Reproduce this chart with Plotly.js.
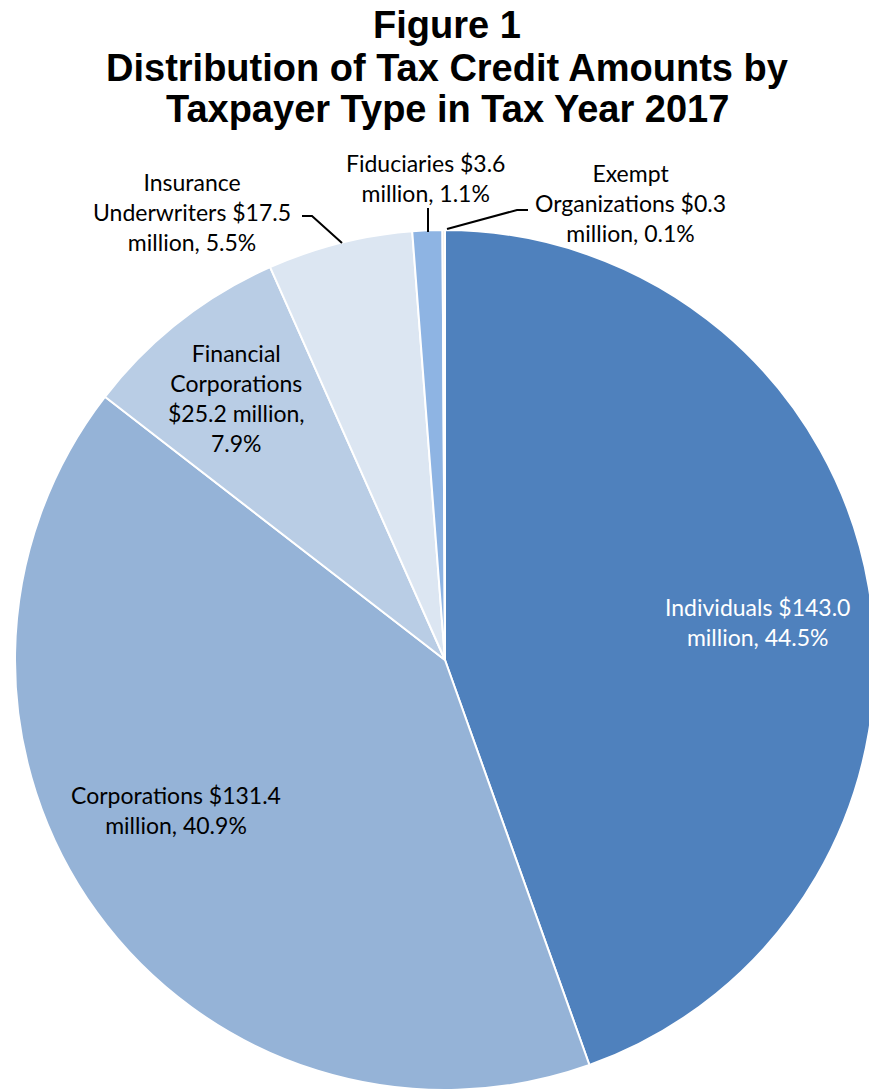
<!DOCTYPE html>
<html>
<head>
<meta charset="utf-8">
<script src="https://cdn.plot.ly/plotly-3.0.1.min.js"></script>
<style>
html, body { margin: 0; padding: 0; overflow: hidden; background: #fff; }
#chart { width: 890px; height: 1091px; }
</style>
</head>
<body>
<div id="chart"></div>
<script>
// Data
const categories = ["Individuals", "Corporations", "Financial Corporations", "Insurance Underwriters", "Fiduciaries", "Exempt Organizations"];
const amounts = [143.0, 131.4, 25.2, 17.5, 3.6, 0.3];
const percents = [44.5, 40.9, 7.9, 5.5, 1.1, 0.1];
const sliceColors = ["#4F81BD", "#95B3D7", "#B9CDE5", "#DCE6F2", "#8EB4E3", "#EEE5D8"];
const titleLines = ["Figure 1", "Distribution of Tax Credit Amounts by", "Taxpayer Type in Tax Year 2017"];

const W = 890, H = 1091;
const px = x => x / W;
const py = y => 1 - y / H;

function amt(i) { return "$" + amounts[i].toFixed(1); }
function pct(i) { return percents[i].toFixed(1) + "%"; }

// label text per slice (line breaks as in the reference)
const labelTexts = [
  categories[0] + " " + amt(0) + "<br>million, " + pct(0),
  categories[1] + " " + amt(1) + "<br>million, " + pct(1),
  "Financial<br>Corporations<br>" + amt(2) + " million,<br>" + pct(2),
  "Insurance<br>Underwriters " + amt(3) + "<br>million, " + pct(3),
  categories[4] + " " + amt(4) + "<br>million, " + pct(4),
  "Exempt<br>Organizations " + amt(5) + "<br>million, " + pct(5)
];
const labelPos = [[757, 622], [176, 810], [236, 398], [192, 212], [425, 178], [630, 203]];
const labelColor = ["#ffffff", "#000000", "#000000", "#000000", "#000000", "#000000"];

const trace = {
  type: "pie",
  labels: categories,
  values: amounts,
  sort: false,
  direction: "clockwise",
  rotation: 0,
  textinfo: "none",
  hoverinfo: "label+value+percent",
  marker: { colors: sliceColors, line: { color: "#ffffff", width: 2 } },
  domain: { x: [0, 1], y: [py(1090), py(230)] },
  showlegend: false
};

const annotations = labelTexts.map((t, i) => ({
  text: t,
  x: px(labelPos[i][0]), y: py(labelPos[i][1]),
  xref: "paper", yref: "paper",
  xanchor: "center", yanchor: "middle",
  showarrow: false,
  align: "center",
  font: { family: "Lato, 'Open Sans', sans-serif", size: 23, color: labelColor[i] }
}));

const titleY = [25, 68, 109];
titleLines.forEach((t, k) => {
  annotations.push({
    text: "<b>" + t + "</b>",
    x: px(447), y: py(titleY[k]), xref: "paper", yref: "paper",
    xanchor: "center", yanchor: "middle", showarrow: false, align: "center",
    font: { family: "'Liberation Sans', Arial, sans-serif", size: 38, color: "#000" }
  });
});

function path(pts) {
  return pts.map((p, k) => (k ? "L" : "M") + px(p[0]) + "," + py(p[1])).join(" ");
}
const leaderStyle = { color: "#000", width: 2 };
const shapes = [
  { type: "path", xref: "paper", yref: "paper", path: path([[302, 216], [312, 216], [342, 243]]), line: leaderStyle },
  { type: "path", xref: "paper", yref: "paper", path: path([[428, 208], [428, 232]]), line: leaderStyle },
  { type: "path", xref: "paper", yref: "paper", path: path([[528, 210], [517, 210], [447, 229]]), line: leaderStyle }
];

const layout = {
  width: W, height: H,
  margin: { l: 0, r: 0, t: 0, b: 0 },
  paper_bgcolor: "#ffffff",
  annotations: annotations,
  shapes: shapes
};

Plotly.newPlot("chart", [trace], layout, { displayModeBar: false, staticPlot: true });
</script>
</body>
</html>
